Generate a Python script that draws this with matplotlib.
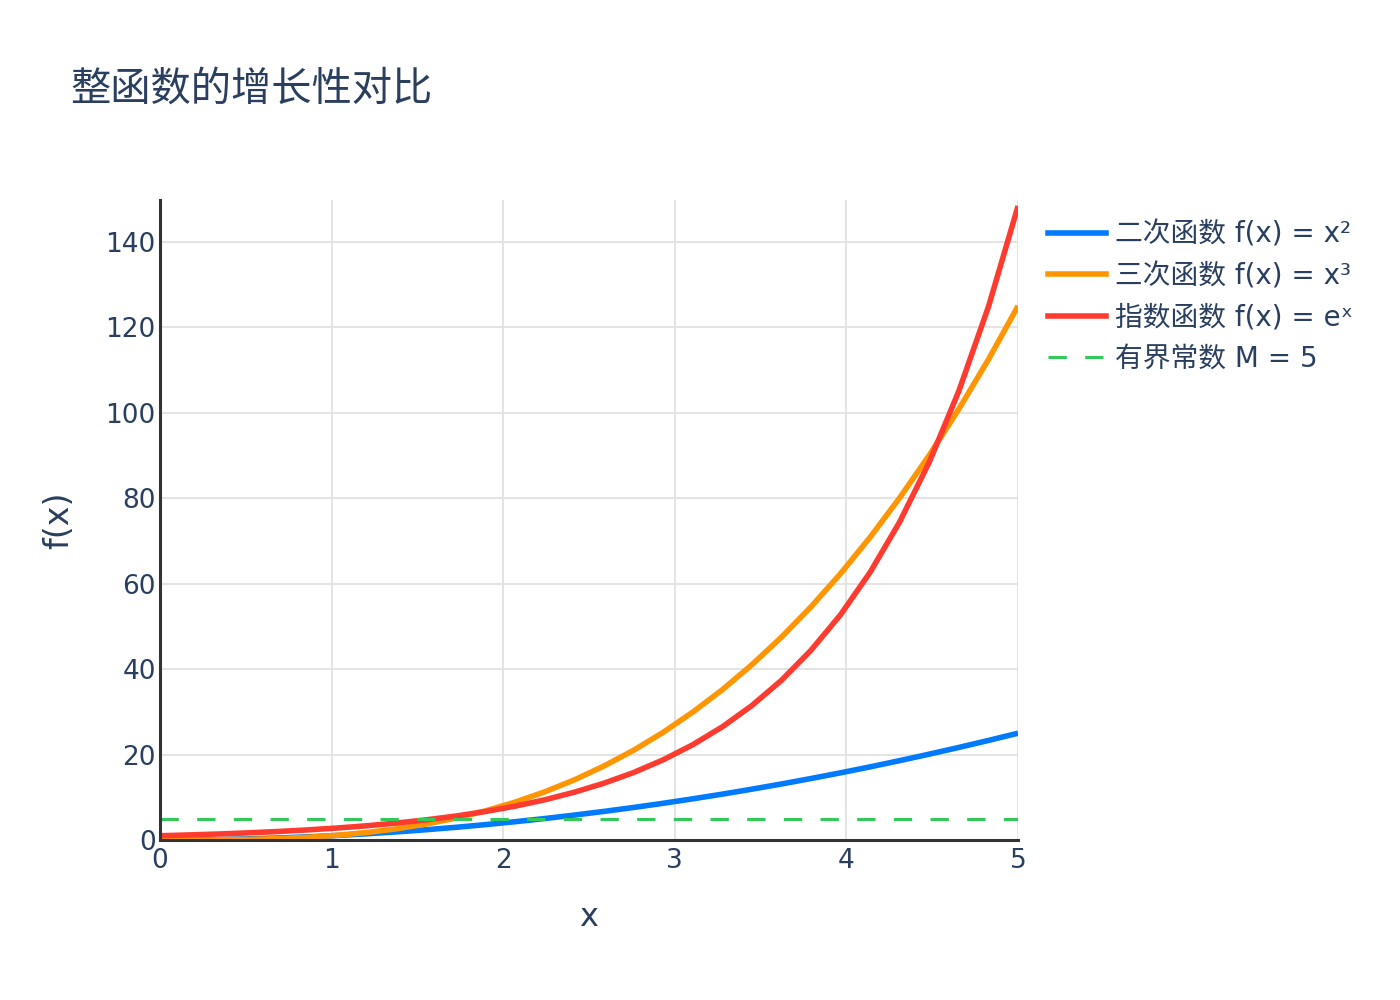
import matplotlib
matplotlib.use("Agg")
import matplotlib.pyplot as plt
from matplotlib.lines import Line2D

plt.rcParams['font.family'] = ['DejaVu Sans', 'Noto Sans CJK SC']

# values (30 samples over 0..5)
x = [0, 0.172, 0.345, 0.517, 0.690, 0.862, 1.034, 1.207, 1.379, 1.552,
     1.724, 1.897, 2.069, 2.241, 2.414, 2.586, 2.759, 2.931, 3.103, 3.276,
     3.448, 3.621, 3.793, 3.966, 4.138, 4.310, 4.483, 4.655, 4.828, 5.0]
quad = [0, 0.03, 0.12, 0.27, 0.48, 0.74, 1.07, 1.46, 1.90, 2.41,
        2.97, 3.60, 4.28, 5.02, 5.83, 6.69, 7.61, 8.59, 9.63, 10.73,
        11.89, 13.11, 14.39, 15.73, 17.12, 18.58, 20.10, 21.67, 23.31, 25.0]
cube = [0, 0.005, 0.04, 0.14, 0.33, 0.64, 1.11, 1.76, 2.62, 3.74,
        5.12, 6.82, 8.86, 11.26, 14.06, 17.30, 20.99, 25.18, 29.89, 35.15,
        40.99, 47.46, 54.57, 62.37, 70.87, 80.09, 90.09, 100.88, 112.52, 125.0]
expo = [1, 1.19, 1.41, 1.68, 1.99, 2.37, 2.81, 3.34, 3.97, 4.72,
        5.61, 6.67, 7.92, 9.40, 11.18, 13.28, 15.78, 18.75, 22.27, 26.47,
        31.44, 37.37, 44.40, 52.75, 62.68, 74.45, 88.49, 105.1, 124.9, 148.4]
bound = 5
labels = ["二次函数 f(x) = x²", "三次函数 f(x) = x³", "指数函数 f(x) = eˣ", "有界常数 M = 5"]
colors = ["#007aff", "#ff9500", "#ff3b30", "#34c759"]
text_c = "#2a3f5f"

fig = plt.figure(figsize=(14, 10), dpi=100)
ax = fig.add_axes([0.1143, 0.16, 0.6129, 0.64])

ax.plot(x, quad, color=colors[0], lw=4, solid_capstyle="butt", zorder=3)
ax.plot(x, cube, color=colors[1], lw=4, solid_capstyle="butt", zorder=3)
ax.plot(x, expo, color=colors[2], lw=4, solid_capstyle="butt", zorder=3)
ax.plot([x[0], x[-1]], [bound, bound], color=colors[3], lw=2.2,
        dashes=(6, 6), zorder=4)

ax.set_xlim(0, 5)
ax.set_ylim(0, 149.8)
ax.set_xticks([0, 1, 2, 3, 4, 5])
ax.set_yticks([0, 20, 40, 60, 80, 100, 120, 140])
ax.grid(True, color="#e2e2e2", lw=1.3)
ax.set_axisbelow(True)
ax.tick_params(length=0, labelsize=19, labelcolor=text_c)
ax.tick_params(axis="y", pad=3)
ax.tick_params(axis="x", pad=6)
for sp in ("top", "right"):
    ax.spines[sp].set_visible(False)
for sp in ("left", "bottom"):
    ax.spines[sp].set_color("#333333")
    ax.spines[sp].set_linewidth(2.2)
    ax.spines[sp].set_zorder(5)

ax.set_xlabel("x", fontsize=23, color=text_c, labelpad=20)
ax.set_ylabel("f(x)", fontsize=24, color=text_c, labelpad=22)

fig.text(0.05, 0.91, "整函数的增长性对比", fontsize=29, color=text_c,
         va="center", ha="left")

handles = [Line2D([], [], color=colors[0], lw=4),
           Line2D([], [], color=colors[1], lw=4),
           Line2D([], [], color=colors[2], lw=4),
           Line2D([], [], color=colors[3], lw=2.2, dashes=(6, 6))]
leg = ax.legend(handles, labels, loc="upper left", bbox_to_anchor=(1.022, 0.985),
                frameon=False, fontsize=20, labelcolor=text_c,
                handlelength=2.1, handletextpad=0.3, labelspacing=0.48,
                borderaxespad=0)

fig.savefig("out.png", dpi=100, facecolor="white")
